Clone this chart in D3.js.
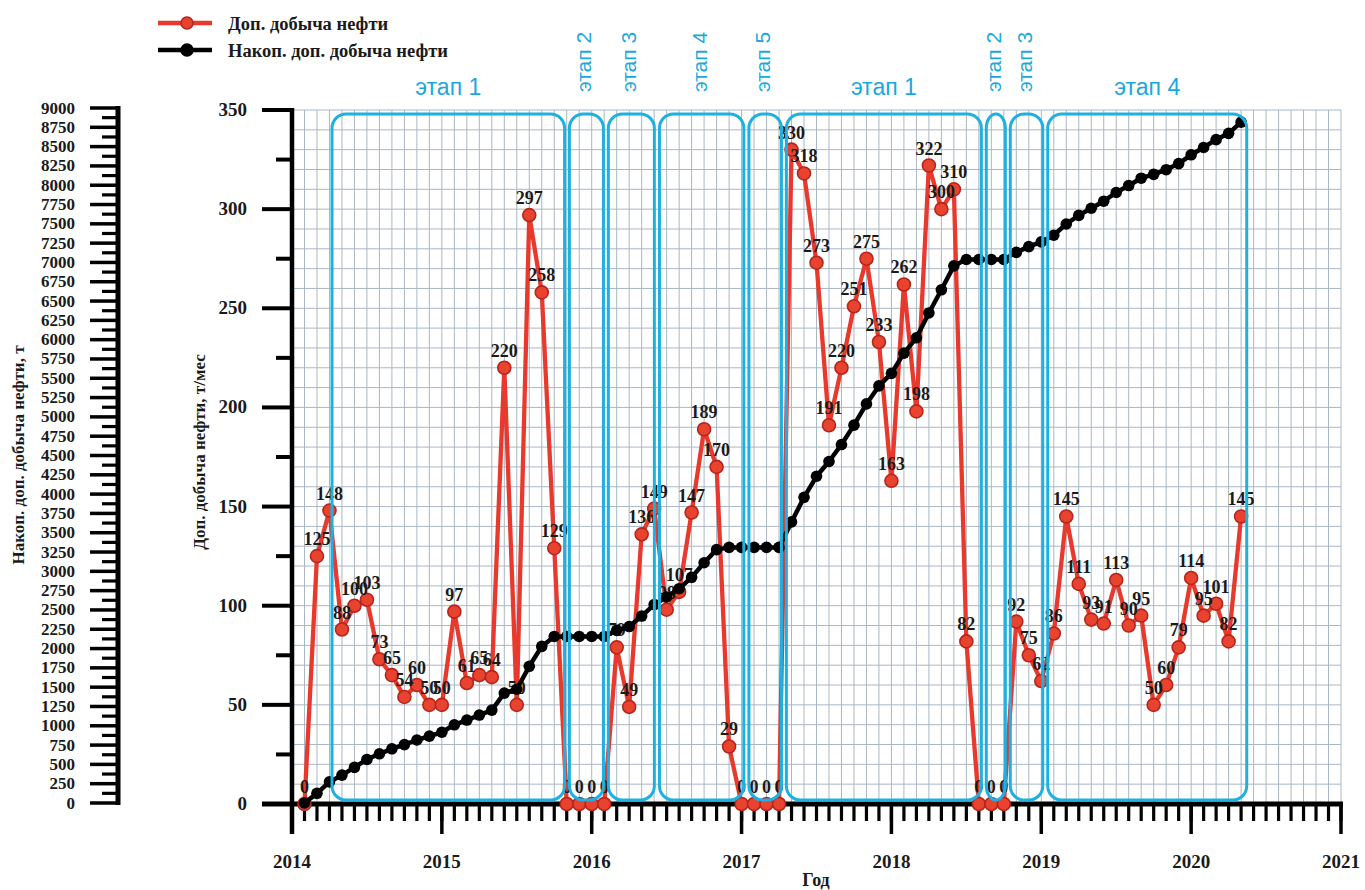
<!DOCTYPE html>
<html lang="ru">
<head>
<meta charset="utf-8">
<title>Дополнительная добыча нефти</title>
<script src="https://cdn.jsdelivr.net/npm/d3@7"></script>
<style>
  html, body { margin: 0; padding: 0; background: #fff; }
  svg { display: block; }
  .num { font-family: "Liberation Serif", "Times New Roman", serif; font-weight: bold; fill: #1a1a1a; }
  .stage { font-family: "Liberation Sans", Arial, sans-serif; fill: #1ba8dd; }
</style>
</head>
<body>
<svg id="chart" width="1365" height="890"></svg>
<script>
// Месяцы наблюдений
const months = [
  "2014-02","2014-03","2014-04","2014-05","2014-06","2014-07","2014-08","2014-09","2014-10","2014-11","2014-12",
  "2015-01","2015-02","2015-03","2015-04","2015-05","2015-06","2015-07","2015-08","2015-09","2015-10","2015-11","2015-12",
  "2016-01","2016-02","2016-03","2016-04","2016-05","2016-06","2016-07","2016-08","2016-09","2016-10","2016-11","2016-12",
  "2017-01","2017-02","2017-03","2017-04","2017-05","2017-06","2017-07","2017-08","2017-09","2017-10","2017-11","2017-12",
  "2018-01","2018-02","2018-03","2018-04","2018-05","2018-06","2018-07","2018-08","2018-09","2018-10","2018-11","2018-12",
  "2019-01","2019-02","2019-03","2019-04","2019-05","2019-06","2019-07","2019-08","2019-09","2019-10","2019-11","2019-12",
  "2020-01","2020-02","2020-03","2020-04","2020-05"
];

// Доп. добыча нефти, т/мес
const monthlyOil = [
  0,125,148,88,100,103,73,65,54,60,50,
  50,97,61,65,64,220,50,297,258,129,0,0,
  0,0,79,49,136,149,98,107,147,189,170,29,
  0,0,0,0,330,318,273,191,220,251,275,233,
  163,262,198,322,300,310,82,0,0,0,92,75,
  62,86,145,111,93,91,113,90,95,50,60,79,
  114,95,101,82,145
];

// Накоп. доп. добыча нефти, т
const cumulativeOil = [
  0,125,273,361,461,564,637,702,756,816,866,
  916,1013,1074,1139,1203,1423,1473,1770,2028,2157,2157,2157,
  2157,2157,2236,2285,2421,2570,2668,2775,2922,3111,3281,3310,
  3310,3310,3310,3310,3640,3958,4231,4422,4642,4893,5168,5401,
  5564,5826,6024,6346,6646,6956,7038,7038,7038,7038,7130,7205,
  7267,7353,7498,7609,7702,7793,7906,7996,8091,8141,8201,8280,
  8394,8489,8590,8672,8817
];

// Этапы (начало и конец, в долях года)
const stageNames = ["этап 1","этап 2","этап 3","этап 4","этап 5","этап 1","этап 2","этап 3","этап 4"];
const stageStart = [2014.267, 2015.851, 2016.111, 2016.452, 2017.049, 2017.299, 2018.633, 2018.793, 2019.043];
const stageEnd   = [2015.819, 2016.078, 2016.418, 2017.015, 2017.266, 2018.600, 2018.760, 2019.010, 2020.371];

// Подписи осей
const yearTicks = [2014, 2015, 2016, 2017, 2018, 2019, 2020, 2021];
const rateTicks = [0, 50, 100, 150, 200, 250, 300, 350];
const cumTicks = d3.range(0, 9001, 250);
const legendNames = ["Доп. добыча нефти", "Накоп. доп. добыча нефти"];

const toYear = s => { const [y, m] = s.split("-").map(Number); return y + (m - 1) / 12; };
const rows = months.map((m, i) => ({ t: toYear(m), v: monthlyOil[i], c: cumulativeOil[i] }));

const svg = d3.select("#chart");
const X0 = 292, X1 = 1341, Y0 = 804, Y1 = 110;

const x = d3.scaleLinear().domain([2014, 2021]).range([X0, X1]);
const y = d3.scaleLinear().domain([0, 350]).range([Y0, Y1]);
const yc = d3.scaleLinear().domain([0, 9000]).range([Y0 - 1, Y1 - 2]);

// Сетка: вертикали по месяцам, горизонтали через 10 т/мес
const grid = svg.append("g");
grid.selectAll("line.v").data(d3.range(2014, 2021.001, 1 / 12)).join("line")
  .attr("x1", d => x(d)).attr("x2", d => x(d)).attr("y1", Y1).attr("y2", Y0)
  .attr("stroke", "#aab7c4").attr("stroke-width", 1);
grid.selectAll("line.h").data(d3.range(0, 351, 10)).join("line")
  .attr("x1", X0).attr("x2", X1).attr("y1", d => y(d)).attr("y2", d => y(d))
  .attr("stroke", "#aab7c4").attr("stroke-width", 1);

// Ось X
const xAxis = svg.append("g");
xAxis.selectAll("line.m").data(d3.range(2014, 2021.001, 1 / 12)).join("line")
  .attr("x1", d => x(d)).attr("x2", d => x(d)).attr("y1", Y0).attr("y2", Y0 + 17)
  .attr("stroke", "#000").attr("stroke-width", 3.2);
xAxis.selectAll("line.y").data(yearTicks).join("line")
  .attr("x1", d => x(d)).attr("x2", d => x(d)).attr("y1", Y0).attr("y2", Y0 + 30)
  .attr("stroke", "#000").attr("stroke-width", 3.5);
xAxis.selectAll("text").data(yearTicks).join("text")
  .attr("class", "num").attr("x", d => x(d)).attr("y", 868)
  .attr("text-anchor", "middle").attr("font-size", 19).text(d => d);
xAxis.append("line").attr("x1", 262).attr("x2", X1 + 2).attr("y1", Y0).attr("y2", Y0)
  .attr("stroke", "#000").attr("stroke-width", 5);
svg.append("text").attr("class", "num").attr("x", 816).attr("y", 886)
  .attr("text-anchor", "middle").attr("font-size", 18).text("Год");

// Основная ось Y (т/мес)
const yAxis = svg.append("g");
yAxis.selectAll("line.minor").data(d3.range(25, 350, 50)).join("line")
  .attr("x1", 276).attr("x2", X0).attr("y1", d => y(d)).attr("y2", d => y(d))
  .attr("stroke", "#000").attr("stroke-width", 4);
yAxis.selectAll("line.major").data(rateTicks).join("line")
  .attr("x1", 262).attr("x2", X0).attr("y1", d => y(d)).attr("y2", d => y(d))
  .attr("stroke", "#000").attr("stroke-width", 4);
yAxis.selectAll("text").data(rateTicks).join("text")
  .attr("class", "num").attr("x", 247).attr("y", d => y(d) + 6)
  .attr("text-anchor", "end").attr("font-size", 19).text(d => d);
yAxis.append("line").attr("x1", X0).attr("x2", X0).attr("y1", Y1 - 2).attr("y2", Y0 + 30)
  .attr("stroke", "#000").attr("stroke-width", 4.5);
svg.append("text").attr("class", "num").attr("font-size", 17)
  .attr("transform", "translate(205,452) rotate(-90)").attr("text-anchor", "middle")
  .text("Доп. добыча нефти, т/мес");

// Левая ось Y (накопленная, т)
const cAxis = svg.append("g");
cAxis.selectAll("line.minor").data(d3.range(125, 9000, 250)).join("line")
  .attr("x1", 102).attr("x2", 118).attr("y1", d => yc(d)).attr("y2", d => yc(d))
  .attr("stroke", "#000").attr("stroke-width", 3.2);
cAxis.selectAll("line.major").data(cumTicks).join("line")
  .attr("x1", 90).attr("x2", 118).attr("y1", d => yc(d)).attr("y2", d => yc(d))
  .attr("stroke", "#000").attr("stroke-width", 3.5);
cAxis.selectAll("text").data(cumTicks).join("text")
  .attr("class", "num").attr("x", 75).attr("y", d => yc(d) + 5.5)
  .attr("text-anchor", "end").attr("font-size", 17).text(d => d);
cAxis.append("line").attr("x1", 118).attr("x2", 118).attr("y1", yc(9000) - 2).attr("y2", yc(0) + 2)
  .attr("stroke", "#000").attr("stroke-width", 5);
svg.append("text").attr("class", "num").attr("font-size", 17)
  .attr("transform", "translate(24,455) rotate(-90)").attr("text-anchor", "middle")
  .text("Накоп. доп. добыча нефти, т");

// Доп. добыча нефти — красная линия с подписями
const redLine = d3.line().x(d => x(d.t)).y(d => y(d.v));
svg.append("path").datum(rows).attr("d", redLine)
  .attr("fill", "none").attr("stroke", "#e8392c").attr("stroke-width", 4.3).attr("stroke-linejoin", "round");
svg.append("g").selectAll("circle").data(rows).join("circle")
  .attr("cx", d => x(d.t)).attr("cy", d => y(d.v)).attr("r", 6.5)
  .attr("fill", "#e8432f").attr("stroke", "#b5251b").attr("stroke-width", 1.6);
svg.append("g").selectAll("text").data(rows).join("text")
  .attr("class", "num").attr("x", d => x(d.t)).attr("y", d => y(d.v) - 11)
  .attr("text-anchor", "middle").attr("font-size", 18).text(d => d.v);

// Накопленная добыча — чёрная линия
const blackLine = d3.line().x(d => x(d.t)).y(d => yc(d.c));
svg.append("path").datum(rows).attr("d", blackLine)
  .attr("fill", "none").attr("stroke", "#000").attr("stroke-width", 4.5).attr("stroke-linejoin", "round");
svg.append("g").selectAll("circle").data(rows).join("circle")
  .attr("cx", d => x(d.t)).attr("cy", d => yc(d.c)).attr("r", 5.8).attr("fill", "#000");

// Рамки этапов
const stages = stageNames.map((n, i) => ({ name: n, a: stageStart[i], b: stageEnd[i] }));
const sg = svg.append("g");
sg.selectAll("rect").data(stages).join("rect")
  .attr("x", d => x(d.a)).attr("width", d => x(d.b) - x(d.a))
  .attr("y", 114).attr("height", 800 - 114)
  .attr("rx", 14).attr("ry", 14)
  .attr("fill", "none").attr("stroke", "#1fb0e2").attr("stroke-width", 3);
sg.selectAll("text").data(stages).join("text")
  .attr("class", "stage")
  .attr("text-anchor", "middle")
  .attr("font-size", d => (x(d.b) - x(d.a) > 100 ? 23 : 21))
  .attr("transform", d => {
    const cx = (x(d.a) + x(d.b)) / 2;
    return x(d.b) - x(d.a) > 100 ? `translate(${cx},95)` : `translate(${cx + 5},62) rotate(-90)`;
  })
  .text(d => d.name);

// Легенда
const legend = svg.append("g");
const legendColors = ["#e8392c", "#000"];
legendNames.forEach((name, i) => {
  const ly = 23 + i * 27;
  legend.append("line").attr("x1", 158).attr("x2", 212).attr("y1", ly).attr("y2", ly)
    .attr("stroke", legendColors[i]).attr("stroke-width", 4.5);
  legend.append("circle").attr("cx", 187).attr("cy", ly).attr("r", 6)
    .attr("fill", i === 0 ? "#e8432f" : "#000").attr("stroke", i === 0 ? "#b5251b" : "#000").attr("stroke-width", 1.5);
  legend.append("text").attr("class", "num").attr("x", 228).attr("y", ly + 7)
    .attr("font-size", 18.5).text(name);
});
</script>
</body>
</html>
